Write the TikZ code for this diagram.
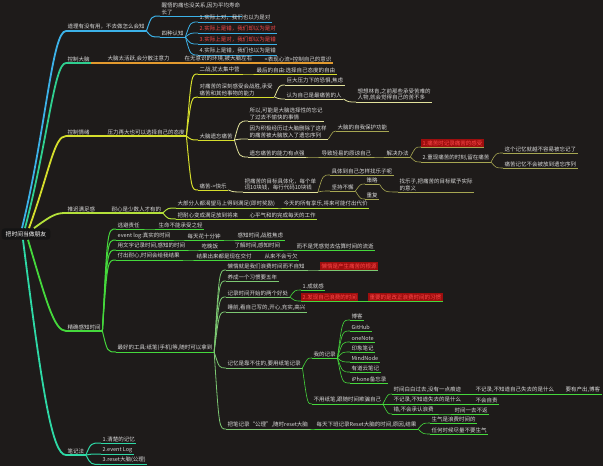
\documentclass[tikz,border=0pt]{standalone}
\usepackage{fontspec}
\newfontfamily\cjk{Noto Sans CJK SC}
\usetikzlibrary{calc}
\definecolor{bg}{HTML}{1E1B1A}
\definecolor{txt}{HTML}{DADADA}
\definecolor{cA}{HTML}{3CB2E8}
\definecolor{cB}{HTML}{2FCF90}
\definecolor{cO}{HTML}{E39A2E}
\definecolor{cY}{HTML}{D6DE2C}
\definecolor{cYp}{HTML}{E2E29C}
\definecolor{cYo}{HTML}{A6A652}
\definecolor{cG}{HTML}{B4E03A}
\definecolor{cV}{HTML}{45D83C}
\definecolor{cVp}{HTML}{7CC872}
\definecolor{cT}{HTML}{2ED9A6}
\definecolor{rd}{HTML}{FF4A4A}
\definecolor{rdbg}{HTML}{9E0E0E}
\tikzset{
 tx/.style={anchor=south west, inner xsep=1.5pt, inner ysep=1.3pt, text=txt, align=left,
   font=\cjk\fontsize{5.5}{6.3}\selectfont},
 nd/.style={tx, append after command={(\tikzlastnode.south west) edge[#1] (\tikzlastnode.south east)}},
 hot/.style={text=rd, fill=rdbg},
 A1/.style={draw=cA, line width=1.4pt},
 A2/.style={draw=cA, line width=1.0pt},
 A3/.style={draw=cA, line width=0.8pt},
 B1/.style={draw=cB, line width=1.4pt},
 O/.style={draw=cO, line width=1.2pt},
 Y1/.style={draw=cY, line width=1.4pt},
 Y2/.style={draw=cY, line width=1.0pt},
 Y3/.style={draw=cYp, line width=0.8pt},
 Y4/.style={draw=cYo, line width=0.6pt},
 G1/.style={draw=cG, line width=1.4pt},
 G2/.style={draw=cG, line width=1.0pt},
 V1/.style={draw=cV, line width=1.4pt},
 V2/.style={draw=cV, line width=1.0pt},
 V3/.style={draw=cVp, line width=0.8pt},
 V4/.style={draw=cV, line width=0.6pt},
 T1/.style={draw=cT, line width=1.4pt},
 T2/.style={draw=cT, line width=1.0pt},
 rootbox/.style={fill=black!92, rounded corners=3pt, text=white, inner xsep=4pt, inner ysep=3pt,
   font=\cjk\fontsize{5.8}{6.6}\selectfont}
}
\newcommand\conn[3]{\draw[#1] (#2.south east) .. controls ($(#2.south east |- #3.south west)+(5,0)$) .. (#3.south west);}
\begin{document}
\begin{tikzpicture}[x=1pt,y=-1pt]
\fill[bg] (0,0) rectangle (603,466);
\useasboundingbox (0,0) rectangle (603,466);

% root
\node[rootbox] (root) at (26,234) {把时间当做朋友};

% branch 1
\node[nd=A1] (b1) at (66,31) {道理有没有用，不去做怎么会知};
\node[nd=A2] (b1a) at (160,16) {醒悟的痛也没关系,因为平均寿命\\长了};
\node[nd=A2] (b1b) at (160,37) {四种认知};
\node[nd=A3] (b1b1) at (198,22) {1.实际上对，我们也以为是对};
\node[nd=A3,text=rd] (b1b2) at (198,33) {2.实际上是错，我们却以为是对};
\node[nd=A3,text=rd] (b1b3) at (198,44) {3.实际上是对，我们却以为是错};
\node[nd=A3] (b1b4) at (198,55) {4.实际上是错，我们也以为是错};

% branch 2
\node[nd=B1] (b2) at (66,63) {控制大脑};
\node[nd=O] (b2a) at (106,63) {大脑太活跃,会分散注意力};
\node[nd=O] (b2b) at (183,63) {在无意识的环境,被大脑左右};
\node[nd=O] (b2c) at (263,63) {<表现心流>控制自己的意识};

% branch 3
\node[nd=Y1] (b3) at (66,136) {控制情绪};
\node[nd=Y1] (b3a) at (106,136) {压力再大也可以选择自己的态度};
\node[nd=Y2] (b3a1) at (198,74) {二战,犹太集中营};
\node[nd=Y2] (b3a1a) at (255,74) {最后的自由:选择自己态度的自由};
\node[nd=Y2] (b3a2) at (198,97) {对痛苦的深刻感受会战胜,承受\\痛苦和其他事物的能力};
\node[nd=Y3] (b3a2a) at (285,85) {巨大压力下的恐惧,焦虑};
\node[nd=Y3] (b3a2b) at (285,99) {认为自己是最痛苦的人};
\node[nd=Y3] (b3a2b1) at (356,102) {想想林肯,之前那些承受苦难的\\人物,就会觉得自己的苦不多};
\node[nd=Y2] (b3a3) at (198,140) {大脑遗忘痛苦};
\node[nd=Y3] (b3a3a) at (248,121) {所以,可能是大脑选择性的忘记\\了过去不愉快的事情};
\node[nd=Y3] (b3a3b) at (248,139) {因为积极经历过大脑删除了这样\\的痛苦被大脑放入了遗忘序列};
\node[nd=Y4] (b3a3b1) at (336,131) {大脑的自我保护功能};
\node[nd=Y3] (b3a3c) at (248,157) {遗忘痛苦的能力有点强};
\node[nd=Y4] (b3a3c1) at (320,157) {导致轻易的原谅自己};
\node[nd=Y4] (b3a3c1a) at (385,157) {解决办法};
\node[nd=Y4,hot] (b3a3c1a1) at (421,147) {1.痛苦时记录痛苦的感受};
\node[nd=Y4] (b3a3c1a2) at (421,162) {2.重现痛苦的时刻,留在痛苦};
\node[nd=Y4] (b3a3c1a2a) at (503,153) {这个记忆就越不容易被忘记了};
\node[nd=Y4] (b3a3c1a2b) at (503,168) {痛苦记忆不会被放到遗忘序列};
\node[nd=Y2] (b3a4) at (198,190) {痛苦->快乐};
\node[nd=Y3] (b3a4a) at (243,192) {把痛苦的目标具体化，每个单\\词10块钱，每行代码10块钱};
\node[nd=Y4] (b3a4a1) at (330,175) {具体到自己怎样找乐子呢};
\node[nd=Y4] (b3a4a2) at (330,191) {坚持不懈};
\node[nd=Y4] (b3a4a2a) at (365,184) {策略};
\node[nd=Y4] (b3a4a2a1) at (398,192) {找乐子,把痛苦的目标赋予实际\\的意义};
\node[nd=Y4] (b3a4a2b) at (365,199) {重复};

% branch 4
\node[nd=G1] (b4) at (66,213) {推迟满足感};
\node[nd=G1] (b4a) at (110,213) {耐心是少数人才有的};
\node[nd=G2] (b4a1) at (176,208) {大部分人都渴望马上得到满足(即时奖励)};
\node[nd=G2] (b4a1a) at (282,208) {今天的所有享乐,将来可能付出代价};
\node[nd=G2] (b4a2) at (176,219) {把耐心变成满足放到将来};
\node[nd=G2] (b4a2a) at (248,219) {心平气和的完成每天的工作};

% branch 5
\node[nd=V1] (b5) at (66,331) {精确感知时间};
\node[nd=V2] (b5a) at (116,229) {逃避责任};
\node[nd=V2] (b5a1) at (157,229) {生命不能承受之轻};
\node[nd=V2] (b5b) at (116,240) {event log:真实的时间};
\node[nd=V2] (b5b1) at (186,240) {每天花十分钟};
\node[nd=V2] (b5b2) at (236,240) {感知时间,战胜焦虑};
\node[nd=V2] (b5c) at (116,250) {用文字记录时间,感知的时间};
\node[nd=V2] (b5c1) at (200,250) {吃晚饭};
\node[nd=V2] (b5c2) at (233,250) {了解时间,感知时间};
\node[nd=V2] (b5c3) at (295,250) {而不是凭感觉去估算时间的流逝};
\node[nd=V2] (b5d) at (116,260) {付出耐心,时间会给我结果};
\node[nd=V2] (b5d1) at (195,260) {结果出来都是现在交付};
\node[nd=V2] (b5d2) at (263,260) {从来不会亏欠};
\node[nd=V2] (b5e) at (116,352) {最好的工具:纸笔(手机)等,随时可以拿到};
\node[nd=V3] (b5e1) at (226,270) {懒惰就是我们浪费时间而不自知};
\node[nd=V3,hot] (b5e1a) at (320,270) {懒惰是产生痛苦的根源};
\node[nd=V3] (b5e2) at (226,281) {养成一个习惯要五年};
\node[nd=V3] (b5e3) at (226,297) {记录时间开始的两个好处};
\node[nd=V4] (b5e3a) at (301,290) {1.成就感};
\node[nd=V4,hot] (b5e3b) at (301,301) {2.发现自己浪费的时间};
\node[nd=V4,hot] (b5e3b1) at (368,301) {重要的是改正浪费时间的习惯};
\node[nd=V3] (b5e4) at (226,312) {睡前,看自己写的,开心,充实,高兴};
\node[nd=V3] (b5e5) at (226,368) {记忆是靠不住的,要用纸笔记录};
\node[nd=V4] (b5e5a) at (312,358) {我的记录};
\node[nd=V4] (m1) at (350,320) {博客};
\node[nd=V4] (m2) at (350,331) {GitHub};
\node[nd=V4] (m3) at (350,342) {oneNote};
\node[nd=V4] (m4) at (350,352) {印象笔记};
\node[nd=V4] (m5) at (350,362) {MindNode};
\node[nd=V4] (m6) at (350,372) {有道云笔记};
\node[nd=V4] (m7) at (350,383) {iPhone备忘录};
\node[nd=V4] (b5e5b) at (312,404) {不用纸笔,跟随时间欺骗自己};
\node[nd=V4] (b5e5b1) at (392,394) {时间白白过去,没有一点痕迹};
\node[nd=V4] (b5e5b1a) at (474,394) {不记录,不知道自己失去的是什么};
\node[nd=V4] (b5e5b1a1) at (564,394) {要有产出,博客};
\node[nd=V4] (b5e5b2) at (392,404) {不记录,不知道失去的是什么};
\node[nd=V4] (b5e5b2a) at (474,404) {不会自责};
\node[nd=V4] (b5e5b3) at (392,414) {错,不会承认浪费};
\node[nd=V4] (b5e5b3a) at (453,414) {时间一去不返};
\node[nd=V3] (b5e6) at (226,429) {把笔记录“公理”,随时reset大脑};
\node[nd=V4] (b5e6a) at (315,429) {每天下班记录Reset大脑的时间,原因,结果};
\node[nd=V4] (b5e6a1) at (430,423) {生气是浪费时间的};
\node[nd=V4] (b5e6a2) at (430,434) {任何时候尽量不要生气};

% branch 6
\node[nd=T1] (b6) at (66,455) {笔记法};
\node[nd=T2] (b6a) at (101,443) {1.清楚的记忆};
\node[nd=T2] (b6b) at (101,454) {2.event Log};
\node[nd=T2] (b6c) at (101,464.5) {3.reset大脑(公理)};

% root connectors
\draw[cA, line width=1.8pt] ([xshift=-4pt]root.north) .. controls (46,130) and (52,31) .. (b1.south west);
\draw[cB, line width=1.8pt] ([xshift=-1pt]root.north) .. controls (48,140) and (54,63) .. (b2.south west);
\draw[cY, line width=1.8pt] ([xshift=3pt]root.north) .. controls (50,170) and (54,136) .. (b3.south west);
\draw[cG, line width=1.8pt] ([xshift=8pt]root.north) .. controls (52,215) and (56,213) .. (b4.south west);
\draw[cV, line width=1.8pt] ([xshift=2pt]root.south) .. controls (46,300) and (54,331) .. (b5.south west);
\draw[cT, line width=1.8pt] ([xshift=-3pt]root.south) .. controls (42,390) and (52,455) .. (b6.south west);

% branch 1 connectors
\conn{A2}{b1}{b1a}
\conn{A2}{b1}{b1b}
\conn{A3}{b1b}{b1b1}
\conn{A3}{b1b}{b1b2}
\conn{A3}{b1b}{b1b3}
\conn{A3}{b1b}{b1b4}
% branch 2
\conn{O}{b2}{b2a}
\conn{O}{b2a}{b2b}
\conn{O}{b2b}{b2c}
% branch 3
\conn{Y1}{b3}{b3a}
\conn{Y2}{b3a}{b3a1}
\conn{Y2}{b3a}{b3a2}
\conn{Y2}{b3a}{b3a3}
\conn{Y2}{b3a}{b3a4}
\conn{Y2}{b3a1}{b3a1a}
\conn{Y3}{b3a2}{b3a2a}
\conn{Y3}{b3a2}{b3a2b}
\conn{Y3}{b3a2b}{b3a2b1}
\conn{Y3}{b3a3}{b3a3a}
\conn{Y3}{b3a3}{b3a3b}
\conn{Y3}{b3a3}{b3a3c}
\conn{Y4}{b3a3b}{b3a3b1}
\conn{Y4}{b3a3c}{b3a3c1}
\conn{Y4}{b3a3c1}{b3a3c1a}
\conn{Y4}{b3a3c1a}{b3a3c1a1}
\conn{Y4}{b3a3c1a}{b3a3c1a2}
\conn{Y4}{b3a3c1a2}{b3a3c1a2a}
\conn{Y4}{b3a3c1a2}{b3a3c1a2b}
\conn{Y3}{b3a4}{b3a4a}
\conn{Y4}{b3a4a}{b3a4a1}
\conn{Y4}{b3a4a}{b3a4a2}
\conn{Y4}{b3a4a2}{b3a4a2a}
\conn{Y4}{b3a4a2}{b3a4a2b}
\conn{Y4}{b3a4a2a}{b3a4a2a1}
% branch 4
\conn{G1}{b4}{b4a}
\conn{G2}{b4a}{b4a1}
\conn{G2}{b4a}{b4a2}
\conn{G2}{b4a1}{b4a1a}
\conn{G2}{b4a2}{b4a2a}
% branch 5
\conn{V2}{b5}{b5a}
\conn{V2}{b5}{b5b}
\conn{V2}{b5}{b5c}
\conn{V2}{b5}{b5d}
\conn{V2}{b5}{b5e}
\conn{V2}{b5a}{b5a1}
\conn{V2}{b5b}{b5b1}
\conn{V2}{b5b1}{b5b2}
\conn{V2}{b5c}{b5c1}
\conn{V2}{b5c1}{b5c2}
\conn{V2}{b5c2}{b5c3}
\conn{V2}{b5d}{b5d1}
\conn{V2}{b5d1}{b5d2}
\conn{V3}{b5e}{b5e1}
\conn{V3}{b5e}{b5e2}
\conn{V3}{b5e}{b5e3}
\conn{V3}{b5e}{b5e4}
\conn{V3}{b5e}{b5e5}
\conn{V3}{b5e}{b5e6}
\conn{V3}{b5e1}{b5e1a}
\conn{V4}{b5e3}{b5e3a}
\conn{V4}{b5e3}{b5e3b}
\conn{V4}{b5e3b}{b5e3b1}
\conn{V4}{b5e5}{b5e5a}
\conn{V4}{b5e5}{b5e5b}
\conn{V4}{b5e5a}{m1}
\conn{V4}{b5e5a}{m2}
\conn{V4}{b5e5a}{m3}
\conn{V4}{b5e5a}{m4}
\conn{V4}{b5e5a}{m5}
\conn{V4}{b5e5a}{m6}
\conn{V4}{b5e5a}{m7}
\conn{V4}{b5e5b}{b5e5b1}
\conn{V4}{b5e5b}{b5e5b2}
\conn{V4}{b5e5b}{b5e5b3}
\conn{V4}{b5e5b1}{b5e5b1a}
\conn{V4}{b5e5b1a}{b5e5b1a1}
\conn{V4}{b5e5b2}{b5e5b2a}
\conn{V4}{b5e5b3}{b5e5b3a}
\conn{V4}{b5e6}{b5e6a}
\conn{V4}{b5e6a}{b5e6a1}
\conn{V4}{b5e6a}{b5e6a2}
% branch 6
\conn{T2}{b6}{b6a}
\conn{T2}{b6}{b6b}
\conn{T2}{b6}{b6c}
\end{tikzpicture}
\end{document}
